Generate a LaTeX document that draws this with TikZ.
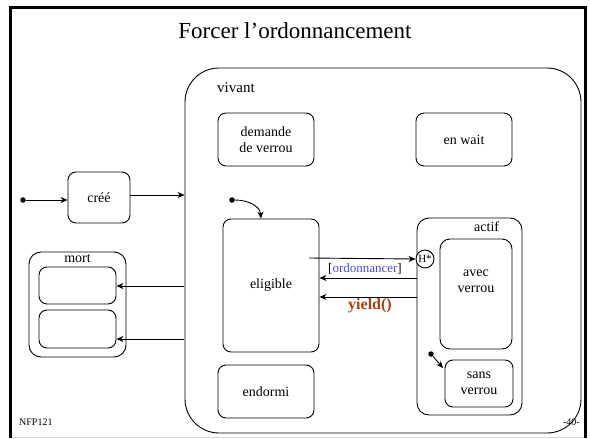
\documentclass[tikz,border=0pt]{standalone}
\usepackage{fontspec}
\setmainfont{Liberation Serif}
\usetikzlibrary{arrows.meta}
\definecolor{ordblue}{RGB}{75,75,225}
\definecolor{yieldbrown}{RGB}{165,65,20}
\tikzset{
  statebox/.style={draw, line width=0.9pt, rounded corners=8pt, inner sep=1pt, align=center, font=\fontsize{14}{16}\selectfont},
  arr/.style={line width=0.9pt, -{Stealth[length=7pt,width=6pt]}},
  initdot/.style={circle, fill=black, inner sep=0pt, minimum size=5.5pt},
  lbl/.style={inner sep=0pt, align=center, font=\fontsize{14}{16}\selectfont}
}
\begin{document}
\begin{tikzpicture}[x=1pt,y=-1pt]
\useasboundingbox (0,0) rectangle (590,439);
% frame
\draw[black!15, line width=1pt] (10,437) -- (585,437);
\draw[line width=3pt] (10,438) -- (10,7) -- (585,7) -- (585,438);
% title
\node[inner sep=0pt, font=\fontsize{23}{26}\selectfont] (title) at (295,31) {Forcer l’ordonnancement};
% vivant
\node[draw, line width=0.9pt, rounded corners=34pt, minimum width=396pt, minimum height=365pt, inner sep=0pt] (vivant) at (383,250.5) {};
\node[lbl, anchor=west, font=\fontsize{15}{17}\selectfont] (vivantlbl) at (217,88) {vivant};
\node[statebox, minimum width=96pt, minimum height=53pt] (demande) at (266,139.5) {demande\\de verrou};
\node[statebox, minimum width=96pt, minimum height=53pt] (enwait) at (464,139.5) {en wait};
\node[statebox, minimum width=96pt, minimum height=53pt] (endormi) at (266,391.5) {endormi};
\node[statebox, minimum width=96pt, minimum height=133pt] (eligible) at (271,285.5) {eligible};
% actif
\node[statebox, rounded corners=12pt, minimum width=105pt, minimum height=197pt] (actif) at (469.5,316.5) {};
\node[lbl, anchor=west] (actiflbl) at (474,227) {actif};
\node[statebox, rounded corners=10pt, minimum width=72pt, minimum height=110pt] (avec) at (476,294) {};
\node[lbl] (aveclbl) at (476,281) {avec\\verrou};
\node[statebox, minimum width=68pt, minimum height=47pt] (sans) at (479,383.5) {sans\\verrou};
\node[draw, circle, line width=0.9pt, fill=white, minimum size=18pt, inner sep=0pt, font=\fontsize{11}{12}\selectfont] (hist) at (425,259) {H*};
\node[initdot] (init3) at (431,354) {};
\coordinate (sansin) at (443,368);
\draw[arr] (init3) -- (sansin);
% créé
\node[initdot] (init1) at (23,200) {};
\node[statebox, minimum width=62pt, minimum height=51pt] (cree) at (99,197.5) {créé};
\draw[arr] (init1) -- (init1 -| cree.west);
\coordinate (creeout) at (130,195);
\draw[arr] (creeout) -- (creeout -| vivant.west);
% mort
\node[statebox, rounded corners=12pt, minimum width=97pt, minimum height=105pt] (mort) at (77.5,304.5) {};
\node[lbl] (mortlbl) at (77.5,258.5) {mort};
\node[statebox, minimum width=77pt, minimum height=37pt] (m1) at (77.5,285.5) {};
\node[statebox, minimum width=77pt, minimum height=38pt] (m2) at (77.5,329) {};
\coordinate (v1) at (184,286);
\coordinate (v2) at (184,339);
\draw[arr] (v1) -- (v1 -| m1.east);
\draw[arr] (v2) -- (v2 -| m1.east);
% eligible initial
\node[initdot] (init2) at (232,200) {};
\coordinate (etop) at (261,219);
\draw[arr] (init2) .. controls (248,200) and (260,206) .. (eligible.north -| etop);
% transitions eligible <-> actif
\coordinate (e0) at (309,258);
\draw[arr] (e0) -- (hist.west);
\coordinate (a1) at (417,278);
\coordinate (a2) at (417,297);
\draw[arr] (a1) -- (a1 -| eligible.east);
\draw[arr] (a2) -- (a2 -| eligible.east);
\node[inner sep=0pt, font=\fontsize{13}{15}\selectfont] (ordlbl) at (365,268.5) {[\textcolor{ordblue}{ordonnancer}]};
\node[inner sep=0pt, font=\fontsize{16}{18}\selectfont\bfseries, text=yieldbrown] (yieldlbl) at (370,306) {yield()};
% footer
\node[inner sep=0pt, anchor=west, font=\fontsize{10}{12}\selectfont] (nfp) at (19,422) {NFP121};
\node[inner sep=0pt, anchor=east, font=\fontsize{10}{12}\selectfont] (pg) at (580,422) {-40-};
\end{tikzpicture}
\end{document}
